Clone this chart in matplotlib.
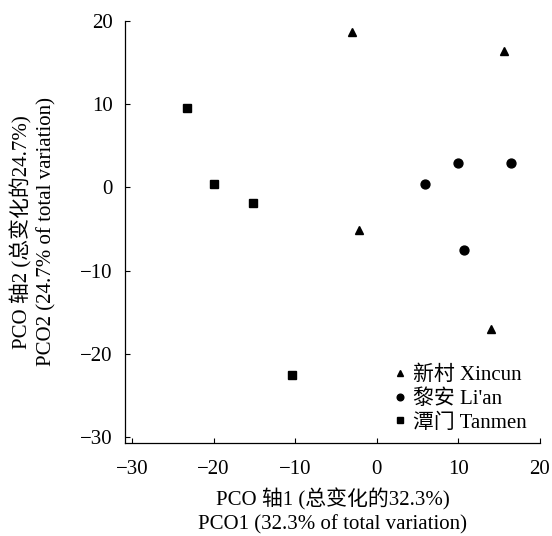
import matplotlib
matplotlib.use('Agg')
import matplotlib.pyplot as plt

plt.rcParams['font.family'] = ['Liberation Serif', 'Noto Sans CJK SC']
plt.rcParams['axes.unicode_minus'] = True

# PCO scores
xincun_x = [-3.0, 15.6, -2.2, 14.0]
xincun_y = [18.7, 16.4, -5.1, -17.0]
lian_x = [5.9, 9.9, 16.4, 10.7]
lian_y = [0.4, 2.9, 2.9, -7.5]
tanmen_x = [-23.3, -20.0, -15.2, -10.4]
tanmen_y = [9.6, 0.4, -1.9, -22.6]

labels = ['新村 Xincun', '黎安 Li\'an', '潭门 Tanmen']
ticks = [-30, -20, -10, 0, 10, 20]

fig = plt.figure(figsize=(5.52, 5.36), dpi=100)
ax = fig.add_axes([125 / 552, 1 - 443 / 536, 415 / 552, 422 / 536])

ax.plot(xincun_x, xincun_y, linestyle='none', marker='^', color='black', markersize=6.2, label=labels[0])
ax.plot(lian_x, lian_y, linestyle='none', marker='o', color='black', markersize=6.4, label=labels[1])
ax.plot(tanmen_x, tanmen_y, linestyle='none', marker='s', color='black', markersize=5.8, label=labels[2])

ax.set_xlim(-30.86, 20.0)
ax.set_ylim(-30.72, 20.0)
ax.set_xticks(ticks)
ax.set_yticks(ticks)
ax.tick_params(direction='in', length=3.5, width=0.8, labelsize=15)
ax.tick_params(axis='x', pad=12)
ax.tick_params(axis='y', pad=9)
for s in ['top', 'right']:
    ax.spines[s].set_visible(False)
for s in ['left', 'bottom']:
    ax.spines[s].set_linewidth(0.9)

ax.set_xlabel('PCO 轴1 (总变化的32.3%)\nPCO1 (32.3% of total variation)', fontsize=15, linespacing=1.3, labelpad=7)
ax.set_ylabel('PCO 轴2 (总变化的24.7%)\nPCO2 (24.7% of total variation)', fontsize=15, linespacing=1.3, labelpad=17)

ax.legend(loc='lower right', frameon=False, fontsize=15, markerscale=0.75,
          handlelength=0.6, handletextpad=0.35, labelspacing=0.2,
          borderaxespad=0.1, bbox_to_anchor=(0.994, 0.0))

fig.savefig('out.png', dpi=100)
